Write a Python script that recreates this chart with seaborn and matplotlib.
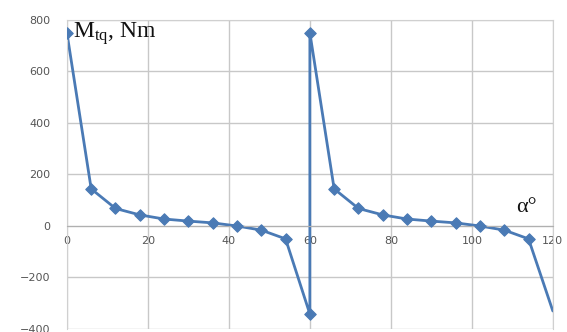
import matplotlib
matplotlib.use("Agg")
import matplotlib.pyplot as plt
import seaborn as sns
import pandas as pd

angle = [0, 6, 12, 18, 24, 30, 36, 42, 48, 54, 60,
         60, 66, 72, 78, 84, 90, 96, 102, 108, 114, 120]
moment = [750, 144, 68, 43, 27, 19, 12, 0, -16, -50, -342,
          750, 144, 68, 43, 27, 19, 12, 0, -16, -50, -330]
x_ticks = [0, 20, 40, 60, 80, 100, 120]
y_ticks = [-400, -200, 0, 200, 400, 600, 800]

sns.set_style("white")
plt.rcParams['mathtext.fontset'] = 'custom'
plt.rcParams['mathtext.rm'] = 'Liberation Serif'
plt.rcParams['mathtext.it'] = 'Liberation Serif'

df = pd.DataFrame({"angle": angle, "moment": moment})

fig = plt.figure(figsize=(5.67, 3.32), dpi=100)
ax = fig.add_axes([0.118, 0.009, 0.857, 0.931])

color = "#4a7ab5"
sns.lineplot(data=df, x="angle", y="moment", sort=False, estimator=None,
             color=color, linewidth=2.0, ax=ax)
sns.scatterplot(data=df.iloc[:-1], x="angle", y="moment", marker="D", s=34,
                color=color, edgecolor=color, linewidth=0.8, ax=ax, zorder=5)

ax.set_xlim(0, 120)
ax.set_ylim(-400, 800)
ax.set_xticks(x_ticks)
ax.set_yticks(y_ticks)
ax.grid(True, color="#c8c8c8", linewidth=1.0)
ax.set_axisbelow(True)
for s in ["top", "right", "left"]:
    ax.spines[s].set_color("#d0d0d0")
ax.spines["bottom"].set_position(("data", 0))
ax.spines["bottom"].set_color("#b0b0b0")
ax.tick_params(axis="both", labelsize=8, colors="#555555", length=0)
ax.tick_params(axis="x", pad=7)
ax.tick_params(axis="y", pad=12)
ax.set_xlabel("")
ax.set_ylabel("")

ax.text(1.5, 745, r"M$_{\mathrm{tq}}$, Nm", fontsize=17, family="Liberation Serif",
        va="center", ha="left", color="#111111")
ax.text(111, 70, "α°", fontsize=16, family="Liberation Serif",
        va="center", ha="left", color="#111111")

fig.savefig("out.png", dpi=100)
